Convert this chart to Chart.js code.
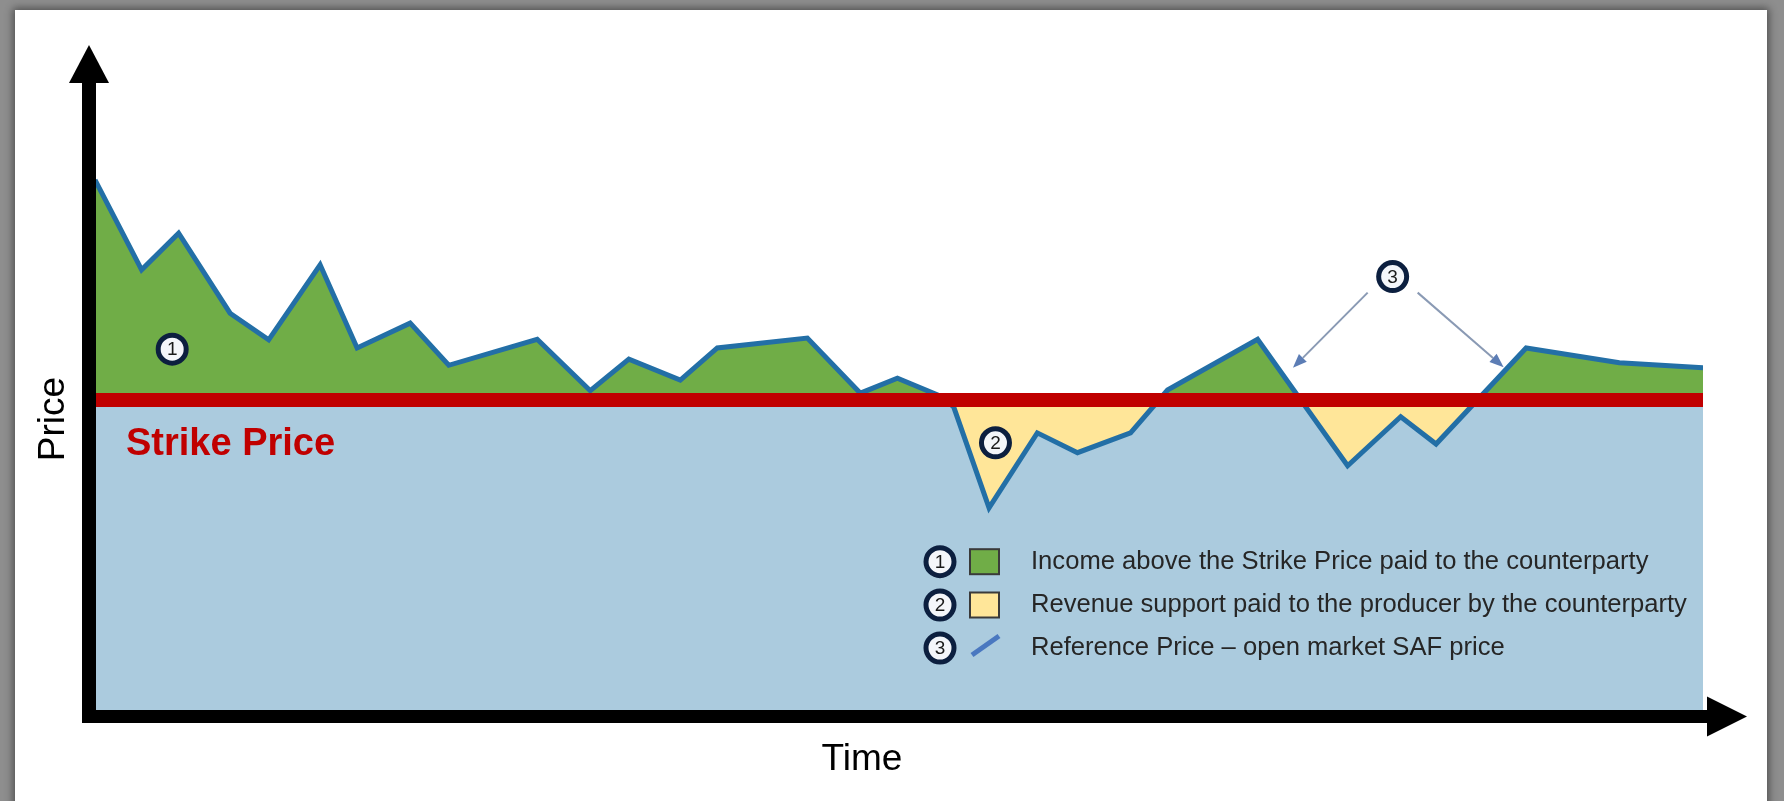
<!DOCTYPE html>
<html>
<head>
<meta charset="utf-8">
<title>Strike Price and Reference Price</title>
<script src="https://cdn.jsdelivr.net/npm/chart.js@4.4.1/dist/chart.umd.min.js"></script>
<style>
    html, body { margin: 0; padding: 0; }
    body { width: 1784px; height: 801px; background: #8e8e8e; overflow: hidden; position: relative; }
    #panel { position: absolute; left: 15px; top: 10px; width: 1752px; height: 800px; background: #fff; box-shadow: 0 0 8px 2px rgba(0, 0, 0, 0.45); }
    #wrap { position: absolute; left: 0; top: 0; width: 1784px; height: 801px; }
</style>
</head>
<body>
<div id="panel"></div>
<div id="wrap"><canvas id="cfdChart"></canvas></div>
<script>
/* Data (arbitrary units) */
let timePoints = [0, 2.9, 5.2, 8.4, 10.8, 14.0, 16.3, 19.6, 22.0, 27.5, 30.8, 33.2, 36.4, 38.7, 44.3, 47.6,
    49.9, 52.4, 53.4, 55.6, 58.6, 61.1, 64.4, 66.7, 72.3, 77.9, 81.2, 83.4, 89.0, 94.8, 100];
let referencePrice = [85.5, 71.0, 76.9, 64.0, 59.7, 71.8, 58.4, 62.4, 55.6, 59.8, 51.5, 56.6, 53.2, 58.4, 60.0, 51.1,
    53.5, 50.8, 48.9, 32.6, 44.7, 41.5, 44.7, 51.6, 59.8, 39.4, 47.3, 42.9, 58.4, 56.0, 55.2];
let strikePrice = 50;
let timeRange = [0, 100];
let priceRange = [0, 100];

let legendNumbers = ["1", "2", "3"];
let legendLabels = [
    "Income above the Strike Price paid to the counterparty",
    "Revenue support paid to the producer by the counterparty",
    "Reference Price \u2013 open market SAF price"
];

/* Colours */
let green = "#70ad47";
let yellow = "#ffe699";
let paleBlue = "#abcbde";
let lineBlue = "#236fa6";
let red = "#c00000";
let font = "'Liberation Sans', Arial, sans-serif";

let refData = timePoints.map((t, i) => ({ x: t, y: referencePrice[i] }));
let strikeData = timeRange.map(t => ({ x: t, y: strikePrice }));

/* Drawing helpers */
function numberCircle(ctx, x, y, label) {
    ctx.beginPath();
    ctx.arc(x, y, 14, 0, Math.PI * 2);
    ctx.fillStyle = "#f4f6fa";
    ctx.fill();
    ctx.lineWidth = 5;
    ctx.strokeStyle = "#0c1f3f";
    ctx.stroke();
    ctx.fillStyle = "#1a1a1a";
    ctx.font = "19px " + font;
    ctx.textAlign = "center";
    ctx.textBaseline = "middle";
    ctx.fillText(label, x, y + 1);
}

function calloutArrow(ctx, x1, y1, x2, y2) {
    let a = Math.atan2(y2 - y1, x2 - x1);
    let head = 14, half = 5.5;
    let bx = x2 - head * Math.cos(a), by = y2 - head * Math.sin(a);
    ctx.strokeStyle = "#8a9ab4";
    ctx.lineWidth = 2;
    ctx.beginPath();
    ctx.moveTo(x1, y1);
    ctx.lineTo(bx, by);
    ctx.stroke();
    ctx.fillStyle = "#5c7db5";
    ctx.beginPath();
    ctx.moveTo(x2, y2);
    ctx.lineTo(bx + half * Math.sin(a), by - half * Math.cos(a));
    ctx.lineTo(bx - half * Math.sin(a), by + half * Math.cos(a));
    ctx.closePath();
    ctx.fill();
}

/* Axes arrows, labels, numbered markers and legend */
const decorations = {
    id: "decorations",
    afterDatasetsDraw(chart) {
        const ctx = chart.ctx;
        const ca = chart.chartArea;
        const xs = chart.scales.x, ys = chart.scales.y;
        const axisX = ca.left - 6;
        const axisY = ca.bottom + 6.5;
        ctx.save();

        // axes
        ctx.fillStyle = "#000";
        ctx.fillRect(axisX - 7, ca.top - 7, 14, axisY + 6.5 - (ca.top - 7));
        ctx.beginPath();
        ctx.moveTo(axisX, ca.top - 45);
        ctx.lineTo(axisX - 20, ca.top - 7);
        ctx.lineTo(axisX + 20, ca.top - 7);
        ctx.closePath();
        ctx.fill();
        ctx.fillRect(axisX - 7, axisY - 6.5, ca.right + 4 - (axisX - 7), 13);
        ctx.beginPath();
        ctx.moveTo(ca.right + 44, axisY);
        ctx.lineTo(ca.right + 4, axisY - 20);
        ctx.lineTo(ca.right + 4, axisY + 20);
        ctx.closePath();
        ctx.fill();

        // axis titles
        ctx.fillStyle = "#000";
        ctx.font = "37px " + font;
        ctx.textAlign = "center";
        ctx.textBaseline = "alphabetic";
        ctx.fillText("Time", ca.left + 767, ca.bottom + 60);
        ctx.save();
        ctx.translate(ca.left - 31, ca.top + 329);
        ctx.rotate(-Math.PI / 2);
        ctx.fillText("Price", 0, 0);
        ctx.restore();

        // strike price label
        ctx.fillStyle = red;
        ctx.font = "bold 38px " + font;
        ctx.textAlign = "left";
        ctx.fillText("Strike Price", ca.left + 31, ys.getPixelForValue(strikePrice) + 55);

        // numbered markers on the chart
        numberCircle(ctx, xs.getPixelForValue(4.8), ys.getPixelForValue(58.2), legendNumbers[0]);
        numberCircle(ctx, xs.getPixelForValue(56.0), ys.getPixelForValue(43.1), legendNumbers[1]);
        const m3x = xs.getPixelForValue(80.7), m3y = ys.getPixelForValue(69.9);
        calloutArrow(ctx, m3x - 25, m3y + 16, xs.getPixelForValue(74.5), ys.getPixelForValue(55.2));
        calloutArrow(ctx, m3x + 25, m3y + 16, xs.getPixelForValue(87.6), ys.getPixelForValue(55.3));
        numberCircle(ctx, m3x, m3y, legendNumbers[2]);

        // legend
        const lx = ca.left + 845;
        const rows = [ca.top + 471.7, ca.top + 515, ca.top + 558];
        rows.forEach((ry, i) => {
            numberCircle(ctx, lx, ry, legendNumbers[i]);
            if (i < 2) {
                ctx.fillStyle = i === 0 ? green : yellow;
                ctx.fillRect(lx + 30, ry - 12.5, 29, 25);
                ctx.lineWidth = 2;
                ctx.strokeStyle = "#3a3a3a";
                ctx.strokeRect(lx + 30, ry - 12.5, 29, 25);
            } else {
                ctx.strokeStyle = "#4a78c0";
                ctx.lineWidth = 5;
                ctx.lineCap = "butt";
                ctx.beginPath();
                ctx.moveTo(lx + 32, ry + 7);
                ctx.lineTo(lx + 59, ry - 12);
                ctx.stroke();
            }
            ctx.fillStyle = "#262626";
            ctx.font = "25.6px " + font;
            ctx.textAlign = "left";
            ctx.textBaseline = "middle";
            ctx.fillText(legendLabels[i], lx + 91, ry);
        });

        ctx.restore();
    }
};

new Chart("cfdChart", {
    type: "line",
    data: {
        datasets: [{
            label: "Strike Price",
            data: strikeData,
            borderColor: red,
            borderWidth: 14,
            borderCapStyle: "butt",
            pointRadius: 0,
            fill: false
        }, {
            label: "Reference Price",
            data: refData,
            borderColor: lineBlue,
            borderWidth: 5,
            borderJoinStyle: "miter",
            pointRadius: 0,
            tension: 0,
            fill: {
                target: { value: strikePrice },
                above: green,
                below: yellow
            }
        }, {
            label: "Below strike",
            data: strikeData,
            borderColor: "rgba(0,0,0,0)",
            borderWidth: 0,
            pointRadius: 0,
            backgroundColor: paleBlue,
            fill: "start"
        }]
    },
    options: {
        responsive: true,
        maintainAspectRatio: false,
        animation: false,
        layout: {
            padding: { left: 95, right: 81, top: 90, bottom: 91 }
        },
        scales: {
            x: { type: "linear", display: false, min: timeRange[0], max: timeRange[1] },
            y: { type: "linear", display: false, min: priceRange[0], max: priceRange[1] }
        },
        plugins: {
            legend: { display: false },
            tooltip: { enabled: false }
        }
    },
    plugins: [decorations]
});
</script>
</body>
</html>
